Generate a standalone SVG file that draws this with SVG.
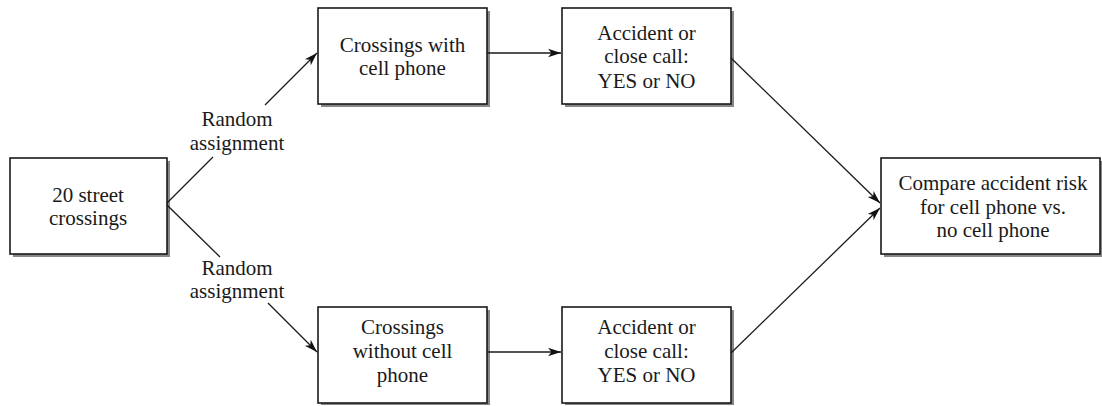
<svg xmlns="http://www.w3.org/2000/svg" width="1102" height="406" viewBox="0 0 1102 406">
<style>
.box{fill:#ffffff;stroke:#1a1a1a;stroke-width:1.6}
.t{font-family:'Liberation Serif','Times New Roman',Times,serif;font-size:21px;fill:#1a1a1a;text-anchor:middle}
.c{stroke:#1a1a1a;stroke-width:1.3;fill:none}
</style>
<defs>
<marker id="ah" markerUnits="userSpaceOnUse" markerWidth="14" markerHeight="10" refX="13" refY="5" orient="auto">
<path d="M0,0.8 L13,5 L0,9.2 L3.5,5 Z" fill="#111"/>
</marker>
</defs>
<g id="n1"><rect fill="#888888" x="13" y="161" width="157" height="96"/><rect class="box" x="10" y="158" width="157" height="96"/>
<text class="t" x="88" y="202">20 street</text><text class="t" x="88" y="225">crossings</text></g>
<g id="n2"><rect fill="#888888" x="321" y="11" width="169" height="96"/><rect class="box" x="318" y="8" width="169" height="96"/>
<text class="t" x="402.5" y="52">Crossings with</text><text class="t" x="402.5" y="75">cell phone</text></g>
<g id="n3"><rect fill="#888888" x="565" y="11" width="169" height="96"/><rect class="box" x="562" y="8" width="169" height="96"/>
<text class="t" x="646.5" y="40">Accident or</text><text class="t" x="646.5" y="63">close call:</text><text class="t" x="646.5" y="88">YES or NO</text></g>
<g id="n4"><rect fill="#888888" x="321" y="310" width="169" height="95"/><rect class="box" x="318" y="307" width="169" height="96"/>
<text class="t" x="402.5" y="334">Crossings</text><text class="t" x="402.5" y="358">without cell</text><text class="t" x="402.5" y="382">phone</text></g>
<g id="n5"><rect fill="#888888" x="565" y="310" width="169" height="95"/><rect class="box" x="562" y="307" width="169" height="96"/>
<text class="t" x="646.5" y="334">Accident or</text><text class="t" x="646.5" y="358">close call:</text><text class="t" x="646.5" y="382">YES or NO</text></g>
<g id="n6"><rect fill="#888888" x="884" y="161" width="218" height="96"/><rect class="box" x="881" y="158" width="219" height="96"/>
<text class="t" x="993" y="190">Compare accident risk</text><text class="t" x="993" y="214">for cell phone vs.</text><text class="t" x="993" y="237">no cell phone</text></g>
<g id="labels">
<text class="t" x="237" y="126">Random</text><text class="t" x="237" y="150">assignment</text>
<text class="t" x="237" y="275">Random</text><text class="t" x="237" y="298">assignment</text>
</g>
<g id="connectors">
<line class="c" x1="167" y1="203" x2="213" y2="157"/>
<line class="c" x1="265" y1="105" x2="317" y2="53" marker-end="url(#ah)"/>
<line class="c" x1="167" y1="205" x2="220" y2="257"/>
<line class="c" x1="268" y1="303" x2="317" y2="352" marker-end="url(#ah)"/>
<line class="c" x1="487" y1="53" x2="561" y2="53" marker-end="url(#ah)"/>
<line class="c" x1="487" y1="352" x2="561" y2="352" marker-end="url(#ah)"/>
<line class="c" x1="731" y1="58" x2="880" y2="203" marker-end="url(#ah)"/>
<line class="c" x1="731" y1="353" x2="880" y2="208" marker-end="url(#ah)"/>
</g>
</svg>
